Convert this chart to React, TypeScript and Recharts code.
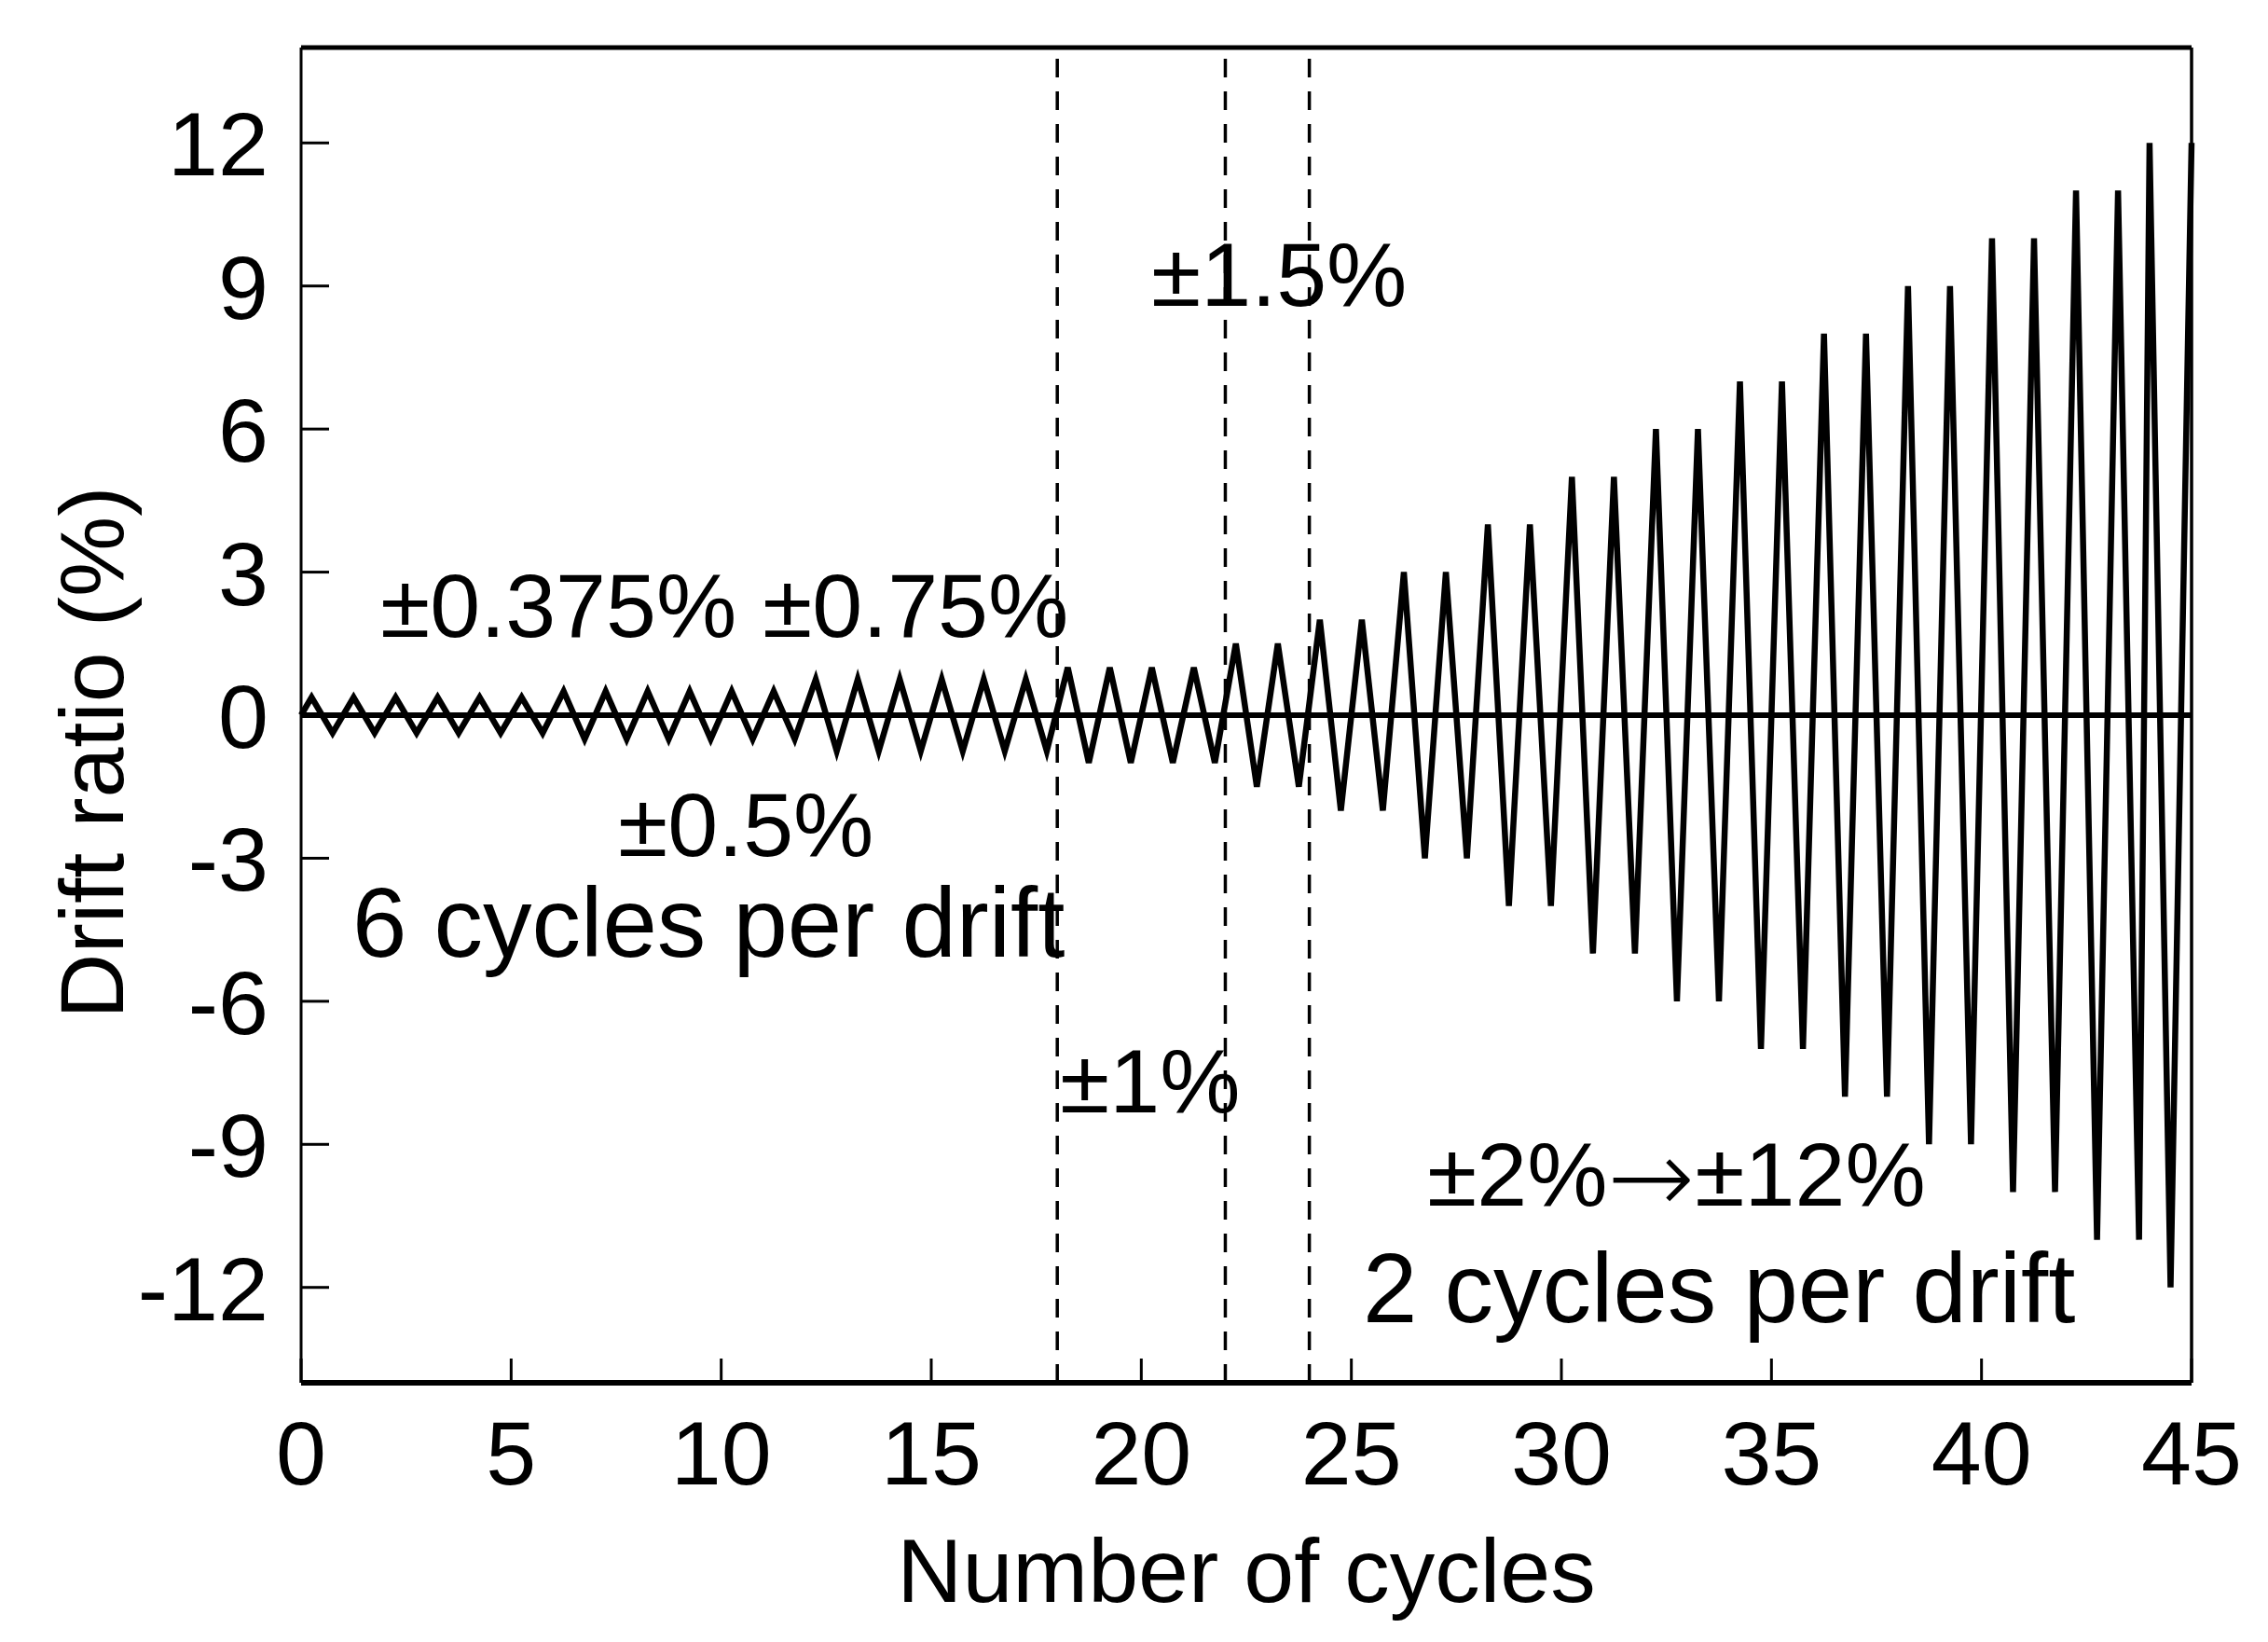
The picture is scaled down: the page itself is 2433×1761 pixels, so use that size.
import React from 'react';
import { LineChart, Line, XAxis, YAxis, ReferenceLine, Customized } from 'recharts';

// Peaks (positive drift) and troughs (negative drift)
const peakCycle = [
  0.25, 1.25, 2.25, 3.25, 4.25, 5.25,
  6.25, 7.25, 8.25, 9.25, 10.25, 11.25,
  12.25, 13.25, 14.25, 15.25, 16.25, 17.25,
  18.25, 19.25, 20.25, 21.25,
  22.25, 23.25,
  24.25, 25.25, 26.25, 27.25, 28.25, 29.25, 30.25, 31.25, 32.25, 33.25,
  34.25, 35.25, 36.25, 37.25, 38.25, 39.25, 40.25, 41.25, 42.25, 43.25,
  44.0, 45.0,
];
const peakDrift = [
  0.375, 0.375, 0.375, 0.375, 0.375, 0.375,
  0.5, 0.5, 0.5, 0.5, 0.5, 0.5,
  0.75, 0.75, 0.75, 0.75, 0.75, 0.75,
  1, 1, 1, 1,
  1.5, 1.5,
  2, 2, 3, 3, 4, 4, 5, 5, 6, 6,
  7, 7, 8, 8, 9, 9, 10, 10, 11, 11,
  12, 12,
];
const troughCycle = [
  0.75, 1.75, 2.75, 3.75, 4.75, 5.75,
  6.75, 7.75, 8.75, 9.75, 10.75, 11.75,
  12.75, 13.75, 14.75, 15.75, 16.75, 17.75,
  18.75, 19.75, 20.75, 21.75,
  22.75, 23.75,
  24.75, 25.75, 26.75, 27.75, 28.75, 29.75, 30.75, 31.75, 32.75, 33.75,
  34.75, 35.75, 36.75, 37.75, 38.75, 39.75, 40.75, 41.75, 42.75, 43.75,
  44.5,
];
const troughDrift = [
  -0.375, -0.375, -0.375, -0.375, -0.375, -0.375,
  -0.5, -0.5, -0.5, -0.5, -0.5, -0.5,
  -0.75, -0.75, -0.75, -0.75, -0.75, -0.75,
  -1, -1, -1, -1,
  -1.5, -1.5,
  -2, -2, -3, -3, -4, -4, -5, -5, -6, -6,
  -7, -7, -8, -8, -9, -9, -10, -10, -11, -11,
  -12,
];

const xTicks = [0, 5, 10, 15, 20, 25, 30, 35, 40, 45];
const yTicks = [-12, -9, -6, -3, 0, 3, 6, 9, 12];
const phaseBoundaries = [18, 22, 24];

const points: { x: number; y: number }[] = [{ x: 0, y: 0 }];
peakCycle.forEach((px, i) => {
  points.push({ x: px, y: peakDrift[i] });
  if (i < troughCycle.length) points.push({ x: troughCycle[i], y: troughDrift[i] });
});

const FONT = '"Liberation Sans", Arial, sans-serif';
const FS = 97;
const FS_BIG = 105;

const YTick = (props: any) => {
  const { x, y, payload } = props;
  return (
    <g>
      <line x1={x + 35} x2={x + 65} y1={y} y2={y} stroke="#000" strokeWidth={3} />
      <text x={x} y={y + 35} textAnchor="end" fontFamily={FONT} fontSize={FS} fill="#000">
        {payload.value}
      </text>
    </g>
  );
};

const XTick = (props: any) => {
  const { x, y, payload } = props;
  return (
    <g>
      <line x1={x} x2={x} y1={y} y2={y - 26} stroke="#000" strokeWidth={3} />
      <text x={x} y={y + 109} textAnchor="middle" fontFamily={FONT} fontSize={FS} fill="#000">
        {payload.value}
      </text>
    </g>
  );
};

const Annotations = () => (
  <g fontFamily={FONT} fontSize={FS} fill="#000">
    <text x={408} y={683}>±0.375%</text>
    <text x={818} y={683}>±0.75%</text>
    <text x={663} y={918}>±0.5%</text>
    <text x={378} y={1026} fontSize={FS_BIG}>6 cycles per drift</text>
    <text x={1137} y={1193}>±1%</text>
    <text x={1235} y={328}>±1.5%</text>
    <text x={1531} y={1293}>
      ±2%
      <tspan fontFamily='"DejaVu Sans", sans-serif' fontWeight={200} fontSize={112} dy={8}>→</tspan>
      <tspan dy={-8}>±12%</tspan>
    </text>
    <text x={1462} y={1418} fontSize={FS_BIG}>2 cycles per drift</text>
    <text x={1337} y={1718} textAnchor="middle">Number of cycles</text>
    <text x={132} y={807} textAnchor="middle" transform="rotate(-90 132 807)">Drift ratio (%)</text>
  </g>
);

export default function App() {
  return (
    <div style={{ position: 'absolute', left: 0, top: 0, width: 2433, height: 1761, background: '#fff' }}>
      <LineChart
        width={2433}
        height={1761}
        data={points}
        margin={{ top: 51, right: 82, bottom: 0, left: 0 }}
      >
        <XAxis
          type="number"
          dataKey="x"
          domain={[0, 45]}
          ticks={xTicks}
          interval={0}
          height={278}
          tickLine={false}
          tickSize={0}
          tickMargin={0}
          tick={<XTick />}
          axisLine={{ stroke: '#000', strokeWidth: 6 }}
        />
        <YAxis
          type="number"
          domain={[-14, 14]}
          ticks={yTicks}
          interval={0}
          width={323}
          tickLine={false}
          tickSize={0}
          tickMargin={35}
          tick={<YTick />}
          axisLine={{ stroke: '#000', strokeWidth: 3 }}
        />
        <ReferenceLine y={14} stroke="#000" strokeWidth={5} />
        <ReferenceLine x={45} stroke="#000" strokeWidth={3.5} />
        {phaseBoundaries.map((b) => (
          <ReferenceLine key={b} x={b} stroke="#000" strokeWidth={3.5} strokeDasharray="20 15" />
        ))}
        <ReferenceLine y={0} stroke="#000" strokeWidth={6} />
        <Line
          type="linear"
          dataKey="y"
          stroke="#000"
          strokeWidth={6.5}
          dot={false}
          isAnimationActive={false}
          strokeLinejoin="miter"
        />
        <Customized component={Annotations} />
      </LineChart>
    </div>
  );
}
